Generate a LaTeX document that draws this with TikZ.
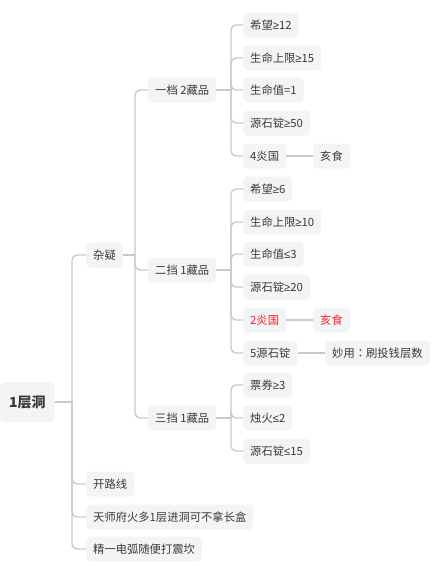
\documentclass[tikz,border=0pt]{standalone}
\usepackage{fontspec}
\newfontfamily\cjk{Noto Sans CJK SC}
\newfontfamily\cjktc{Noto Sans CJK TC}
\newfontfamily\symf{Liberation Sans}
\newcommand{\atleast}{{\symf ≥}}
\newcommand{\atmost}{{\symf ≤}}
\definecolor{boxgray}{HTML}{F3F4F6}
\definecolor{linegray}{HTML}{CACACA}
\definecolor{textgray}{HTML}{3A3A3A}
\definecolor{hotred}{HTML}{F5222D}
\tikzset{
  topic/.style={fill=boxgray, rounded corners=4pt, inner xsep=7pt, inner ysep=0pt,
    minimum height=25pt, anchor=west, text=textgray,
    font=\cjk\fontsize{11.3}{13}\selectfont},
  link/.style={draw=linegray, line width=1.4pt, rounded corners=5pt},
}
\begin{document}
\begin{tikzpicture}[x=1pt, y=-1pt]
        \useasboundingbox (0,0) rectangle (437,570);
        \node[topic, inner xsep=9pt, minimum height=40pt,
              font=\cjk\bfseries\fontsize{14}{16}\selectfont] at (0,402) (root) {1层洞};

        \node[topic] at ( 86,255) (zy) {杂疑};
        \node[topic] at ( 86,484) (k1) {开路线};
        \node[topic] at ( 86,517) (k2) {天师府火多1层进洞可不拿长盒};
        \node[topic] at ( 86,549) (k3) {精一电弧随便打震坎};

        \node[topic] at (148, 90) (d1) {一档 2藏品};
        \node[topic] at (148,270) (d2) {二挡 1藏品};
        \node[topic] at (148,418) (d3) {三挡 1藏品};

        \node[topic] at (243, 25) (a1) {希望\atleast12};
        \node[topic] at (243, 58) (a2) {生命上限\atleast15};
        \node[topic] at (243, 90) (a3) {生命值=1};
        \node[topic] at (243,123) (a4) {源石锭\atleast50};
        \node[topic] at (243,156) (a5) {4炎国};
        \node[topic] at (313,156) (a6) {亥食};

        \node[topic] at (243,189) (b1) {希望\atleast6};
        \node[topic] at (243,222) (b2) {生命上限\atleast10};
        \node[topic] at (243,254) (b3) {生命值\atmost3};
        \node[topic] at (243,287) (b4) {源石锭\atleast20};
        \node[topic, text=hotred] at (243,320) (b5) {2炎国};
        \node[topic, text=hotred] at (313,320) (b6) {亥食};
        \node[topic] at (243,353) (b7) {5源石锭};
        \node[topic] at (325,353) (b8) {妙用{\cjktc ：}刷投钱层数};

        \node[topic] at (243,385) (c1) {票券\atleast3};
        \node[topic] at (243,418) (c2) {烛火\atmost2};
        \node[topic] at (243,451) (c3) {源石锭\atmost15};

        % forks
        \coordinate (j0) at ( 72,402);
        \coordinate (jz) at (135,255);
        \coordinate (ja) at (231, 90);
        \coordinate (jb) at (231,270);
        \coordinate (jc) at (231,418);

        \draw[link] (root.east) -- (j0);
        \foreach \n in {zy,k1,k2,k3} \draw[link] (j0) |- (\n.west);

        \draw[link] (zy.east) -- (jz);
        \foreach \n in {d1,d2,d3} \draw[link] (jz) |- (\n.west);

        \draw[link] (d1.east) -- (ja);
        \foreach \n in {a1,a2,a3,a4,a5} \draw[link] (ja) |- (\n.west);
        \draw[link] (a5) -- (a6);

        \draw[link] (d2.east) -- (jb);
        \foreach \n in {b1,b2,b3,b4,b5,b7} \draw[link] (jb) |- (\n.west);
        \draw[link] (b5) -- (b6);
        \draw[link] (b7) -- (b8);

        \draw[link] (d3.east) -- (jc);
        \foreach \n in {c1,c2,c3} \draw[link] (jc) |- (\n.west);
\end{tikzpicture}
\end{document}
